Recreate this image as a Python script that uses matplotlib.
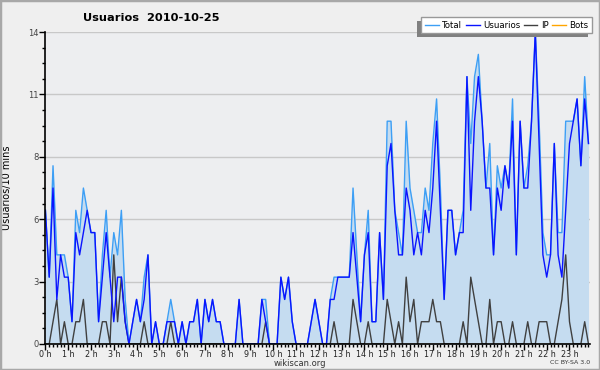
import matplotlib
matplotlib.use("Agg")
import matplotlib.pyplot as plt
from matplotlib.patches import Rectangle
from matplotlib.ticker import MultipleLocator, FixedLocator

# 10-minute slots, 0..143
total = [6, 3, 8, 4, 4, 4, 3, 1, 6, 5, 7, 6, 5, 5, 1, 4, 6, 3, 5, 4,
         6, 2, 0, 1, 2, 1, 3, 4, 0, 1, 0, 0, 1, 2, 1, 0, 1, 0, 1, 1,
         2, 0, 2, 1, 2, 1, 1, 0, 0, 0, 0, 2, 0, 0, 0, 0, 0, 2, 2, 0,
         0, 0, 3, 2, 3, 1, 0, 0, 0, 0, 1, 2, 1, 0, 0, 2, 3, 3, 3, 3,
         3, 7, 4, 1, 4, 6, 1, 1, 5, 2, 10, 10, 6, 5, 4, 10, 7, 6, 5, 5,
         7, 6, 9, 11, 7, 2, 6, 6, 4, 5, 6, 12, 9, 12, 13, 10, 7, 9, 4, 8,
         7, 8, 7, 11, 4, 10, 7, 8, 10, 14, 10, 5, 4, 4, 9, 5, 5, 10, 10, 10,
         11, 8, 12, 9]
usuarios = [6, 3, 7, 2, 4, 3, 3, 1, 5, 4, 5, 6, 5, 5, 1, 3, 5, 3, 1, 3,
            3, 1, 0, 1, 2, 1, 2, 4, 0, 1, 0, 0, 1, 1, 1, 0, 1, 0, 1, 1,
            2, 0, 2, 1, 2, 1, 1, 0, 0, 0, 0, 2, 0, 0, 0, 0, 0, 2, 1, 0,
            0, 0, 3, 2, 3, 1, 0, 0, 0, 0, 1, 2, 1, 0, 0, 2, 2, 3, 3, 3,
            3, 5, 3, 1, 4, 5, 1, 1, 5, 2, 8, 9, 6, 4, 4, 7, 6, 4, 5, 4,
            6, 5, 7, 10, 6, 2, 6, 6, 4, 5, 5, 12, 6, 10, 12, 10, 7, 7, 4, 7,
            6, 8, 7, 10, 4, 10, 7, 7, 10, 14, 9, 4, 3, 4, 9, 4, 3, 6, 9, 10,
            11, 8, 11, 9]
ip = [0, 0, 1, 2, 0, 1, 0, 0, 1, 1, 2, 0, 0, 0, 0, 1, 1, 0, 4, 1,
      3, 1, 0, 0, 0, 0, 1, 0, 0, 0, 0, 0, 0, 1, 0, 0, 0, 0, 0, 0,
      0, 0, 0, 0, 0, 0, 0, 0, 0, 0, 0, 0, 0, 0, 0, 0, 0, 0, 1, 0,
      0, 0, 0, 0, 0, 0, 0, 0, 0, 0, 0, 0, 0, 0, 0, 0, 1, 0, 0, 0,
      0, 2, 1, 0, 0, 1, 0, 0, 0, 0, 2, 1, 0, 1, 0, 3, 1, 2, 0, 1,
      1, 1, 2, 1, 1, 0, 0, 0, 0, 0, 1, 0, 3, 2, 1, 0, 0, 2, 0, 1,
      1, 0, 0, 1, 0, 0, 0, 1, 0, 0, 1, 1, 1, 0, 0, 1, 2, 4, 1, 0,
      0, 0, 1, 0]
bots = [0] * 144

series_names = ["Total", "Usuarios", "IP", "Bots"]
series_colors = ["#3d9ff5", "#0a14ff", "#404040", "#ffa500"]
hour_labels = [f"{h} h" for h in range(24)]
y_ticks = [0, 2.8, 5.6, 8.4, 11.2, 14]
y_labels = ["0", "3", "6", "8", "11", "14"]

x = list(range(len(total)))

fig = plt.figure(figsize=(6, 3.7), dpi=100, facecolor="#efefef")
fig.patches.append(Rectangle((0, 0), 1, 1, transform=fig.transFigure,
                             fill=False, edgecolor="#a8a8a8", linewidth=2.5))
ax = fig.add_axes([0.0757, 0.0703, 0.907, 0.843])
ax.set_facecolor("#edeef0")

ax.fill_between(x, total, 0, color="#c5dcf0", linewidth=0, zorder=1)
l_bots, = ax.plot(x, bots, color=series_colors[3], lw=1.0, zorder=2)
l_ip, = ax.plot(x, ip, color=series_colors[2], lw=1.0, zorder=3)
l_tot, = ax.plot(x, total, color=series_colors[0], lw=1.0, zorder=4)
l_usr, = ax.plot(x, usuarios, color=series_colors[1], lw=1.0, zorder=5)

ax.set_xlim(0, 143.3)
ax.set_ylim(0, 14)
ax.set_yticks(y_ticks)
ax.set_yticklabels(y_labels)
ax.yaxis.set_minor_locator(MultipleLocator(0.7))
ax.set_xticks(range(0, 144, 6))
ax.set_xticklabels(hour_labels)
ax.xaxis.set_minor_locator(FixedLocator(range(0, 144)))
ax.grid(axis="y", color="#c8c8c8", lw=1.0)
ax.set_axisbelow(True)

for s in ("top", "right"):
    ax.spines[s].set_visible(False)
for s in ("left", "bottom"):
    ax.spines[s].set_linewidth(1.2)
    ax.spines[s].set_zorder(6)
ax.tick_params(axis="both", which="major", length=4, width=1, labelsize=6, pad=0.5)
ax.tick_params(axis="both", which="minor", length=2.5, width=1)
ax.tick_params(axis="x", labelcolor="#222222", labelsize=5.8, pad=0)
ax.tick_params(axis="y", labelcolor="#444444", pad=1)

ax.set_ylabel("Usuarios/10 mins", fontsize=7)
ax.yaxis.set_label_coords(-0.062, 0.5)

fig.text(0.252, 0.951, "Usuarios  2010-10-25", fontsize=8.2, fontweight="bold",
         ha="center", va="center")
fig.text(0.5, 0.017, "wikiscan.org", fontsize=6, ha="center", va="center", color="#333333")
fig.text(0.983, 0.019, "CC BY-SA 3.0", fontsize=4.5, ha="right", va="center", color="#333333")

leg = fig.legend(handles=[l_tot, l_usr, l_ip, l_bots], labels=series_names,
                 loc="upper right", bbox_to_anchor=(0.987, 0.955), ncol=4,
                 fontsize=6.2, frameon=True, fancybox=False, framealpha=1,
                 edgecolor="#999999", handlelength=1.6, handletextpad=0.4,
                 columnspacing=0.4, borderpad=0.45, borderaxespad=0)

fig.canvas.draw()
bb = leg.get_window_extent().transformed(fig.transFigure.inverted())
fig.patches.append(Rectangle((bb.x0 - 4 / 600, bb.y0 - 4 / 370), bb.width, bb.height,
                             transform=fig.transFigure, facecolor="#808080",
                             edgecolor="none", zorder=0))

fig.savefig("out.png", dpi=100, facecolor=fig.get_facecolor())
